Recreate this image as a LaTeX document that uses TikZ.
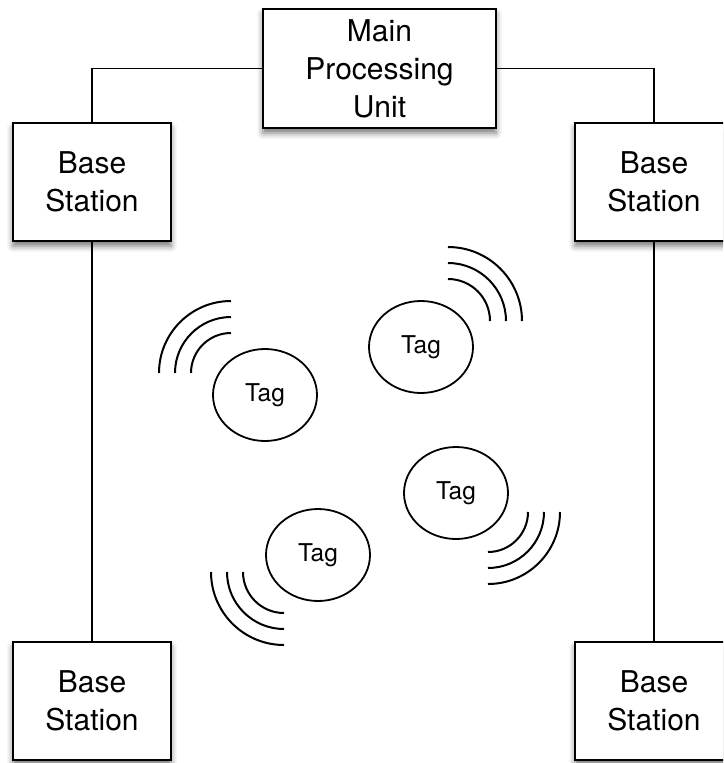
\documentclass[tikz,border=0pt]{standalone}
\usepackage{fontspec}
\setmainfont{TeX Gyre Heros}
\usetikzlibrary{shapes.geometric,shadows.blur}
\tikzset{
  unitbox/.style={draw=black, line width=2pt, fill=white, align=center,
    inner sep=0pt, font=\fontsize{30}{38}\selectfont,
    blur shadow={shadow xshift=0pt, shadow yshift=-5pt, shadow blur radius=6pt, shadow opacity=55}},
  stationbox/.style={unitbox, minimum width=158pt, minimum height=118pt},
  tagnode/.style={draw=black, line width=1.8pt, ellipse, inner sep=0pt,
    minimum width=104pt, minimum height=92pt, font=\fontsize{24.5}{29}\selectfont},
  wire/.style={draw=black, line width=1.6pt},
  wave/.style={draw=black, line width=2pt}
}
\begin{document}
\begin{tikzpicture}[x=1pt, y=-1pt]
  \useasboundingbox (0,0) rectangle (723,763);
  \clip (0,0) rectangle (723,763);

  % processing unit and the four base stations
  \node[unitbox, minimum width=233pt, minimum height=119pt] (mpu) at (379.5,68.5) {Main\\Processing\\Unit};
  \node[stationbox] (bsTL) at (92,182) {Base\\Station};
  \node[stationbox] (bsTR) at (654,182) {Base\\Station};
  \node[stationbox] (bsBL) at (92,701) {Base\\Station};
  \node[stationbox] (bsBR) at (654,701) {Base\\Station};

  % wiring
  \draw[wire] (mpu.west) -| (bsTL.north);
  \draw[wire] (mpu.east) -| (bsTR.north);
  \draw[wire] (bsTL.south) -- (bsBL.north);
  \draw[wire] (bsTR.south) -- (bsBR.north);

  % tags
  \node[tagnode] (tag1) at (265,395) {Tag};
  \node[tagnode] (tag2) at (421,347) {Tag};
  \node[tagnode] (tag3) at (456,493) {Tag};
  \node[tagnode] (tag4) at (318,555) {Tag};

  % radio waves
  \foreach \r in {40,56,72} {
    \draw[wave] (231,373) ++(270:\r) arc[start angle=270, end angle=180, radius=\r];
    \draw[wave] (448,321) ++(270:\r+2) arc[start angle=270, end angle=360, radius=\r+2];
    \draw[wave] (488,512) ++(0:\r) arc[start angle=0, end angle=90, radius=\r];
    \draw[wave] (284,572) ++(180:\r+1) arc[start angle=180, end angle=90, radius=\r+1];
  }
\end{tikzpicture}
\end{document}
